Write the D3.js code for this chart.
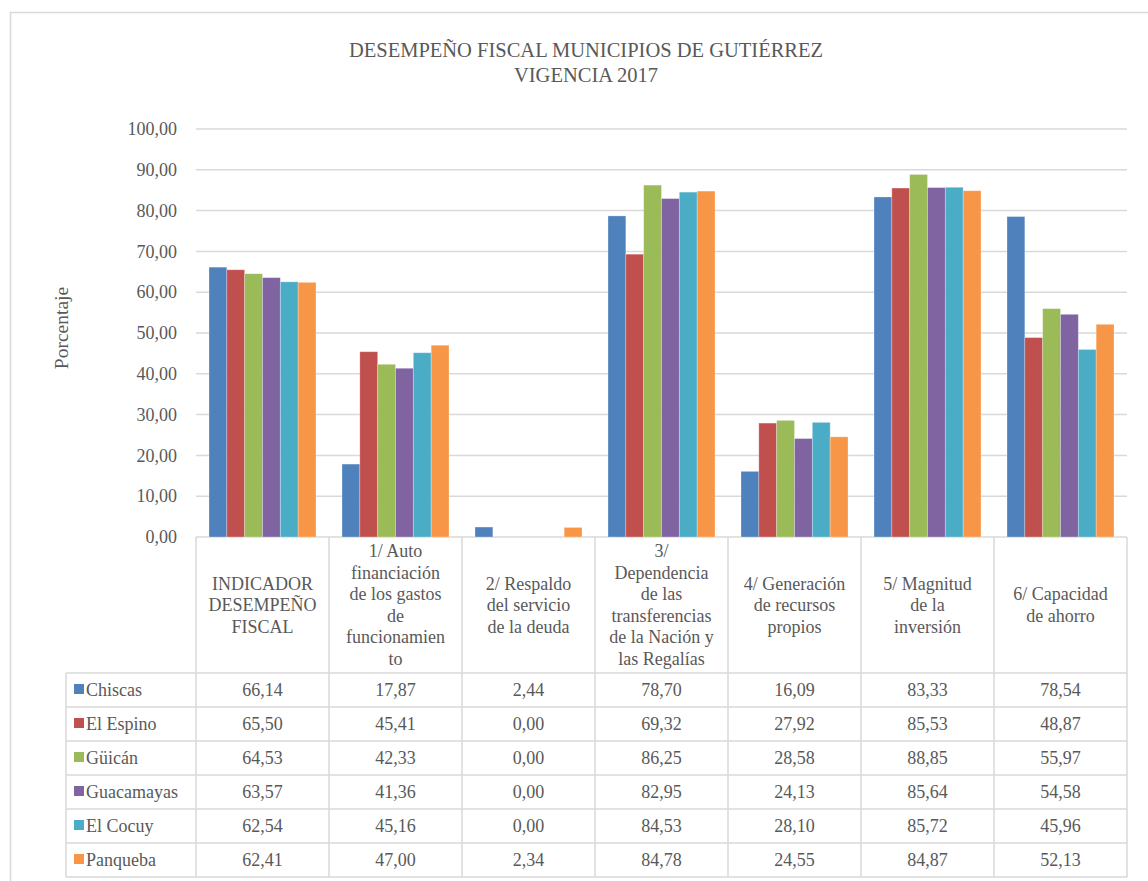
<!DOCTYPE html>
<html>
<head>
<meta charset="utf-8">
<script src="https://cdn.jsdelivr.net/npm/d3@7"></script>
<style>
  body { margin: 0; background: #fff; }
  svg, svg text { font-family: "Liberation Serif", "DejaVu Serif", serif; fill: #595959; }
</style>
</head>
<body>
<script>
const categories = [
    ['INDICADOR', 'DESEMPEÑO', 'FISCAL'],
    ['1/ Auto', 'financiación', 'de los gastos', 'de', 'funcionamien', 'to'],
    ['2/ Respaldo', 'del servicio', 'de la deuda'],
    ['3/', 'Dependencia', 'de las', 'transferencias', 'de la Nación y', 'las Regalías'],
    ['4/ Generación', 'de recursos', 'propios'],
    ['5/ Magnitud', 'de la', 'inversión'],
    ['6/ Capacidad', 'de ahorro']
];
const municipios = ['Chiscas', 'El Espino', 'Güicán', 'Guacamayas', 'El Cocuy', 'Panqueba'];
const chiscas    = [66.14, 17.87, 2.44, 78.70, 16.09, 83.33, 78.54];
const elEspino   = [65.50, 45.41, 0.00, 69.32, 27.92, 85.53, 48.87];
const guican     = [64.53, 42.33, 0.00, 86.25, 28.58, 88.85, 55.97];
const guacamayas = [63.57, 41.36, 0.00, 82.95, 24.13, 85.64, 54.58];
const elCocuy    = [62.54, 45.16, 0.00, 84.53, 28.10, 85.72, 45.96];
const panqueba   = [62.41, 47.00, 2.34, 84.78, 24.55, 84.87, 52.13];
const yTicks = [0, 10, 20, 30, 40, 50, 60, 70, 80, 90, 100];
const colors = ['#4f81bd', '#c0504d', '#9bbb59', '#8064a2', '#4bacc6', '#f79646'];

const series = [chiscas, elEspino, guican, guacamayas, elCocuy, panqueba];

const W = 1148, H = 881;
const plotLeft = 196, plotRight = 1127, plotTop = 129, plotBottom = 537;
const headerBottom = 673, rowH = 34, legendLeft = 66;
const grid = '#d9d9d9';
const fs = '18px';

const fmt = v => v.toFixed(2).replace('.', ',');

const svg = d3.select('body').append('svg')
    .attr('width', W)
    .attr('height', H);

// outer chart border
svg.append('rect')
    .attr('x', 10.5).attr('y', 12.5)
    .attr('width', W + 20).attr('height', H + 20)
    .attr('fill', 'none').attr('stroke', grid).attr('stroke-width', 1.5);

// title
svg.append('text').attr('x', 586).attr('y', 57).attr('text-anchor', 'middle')
    .style('font-size', '20.5px').text('DESEMPEÑO FISCAL MUNICIPIOS DE GUTIÉRREZ');
svg.append('text').attr('x', 586).attr('y', 82).attr('text-anchor', 'middle')
    .style('font-size', '20.5px').text('VIGENCIA 2017');

const y = d3.scaleLinear().domain([0, 100]).range([plotBottom, plotTop]);
const x0 = d3.scaleBand().domain(d3.range(categories.length)).range([plotLeft, plotRight]);
const x1 = d3.scaleBand().domain(d3.range(municipios.length)).range([13, x0.bandwidth() - 13]);

// gridlines + y labels
const yAxis = d3.axisLeft(y).tickValues(yTicks).tickSize(0).tickPadding(19).tickFormat(fmt);
const ga = svg.append('g').attr('transform', 'translate(' + plotLeft + ',0)').call(yAxis);
ga.attr('font-family', null).attr('font-size', null);
ga.select('.domain').remove();
ga.selectAll('text').style('font-size', fs).attr('fill', '#595959');

svg.append('g').selectAll('line')
    .data(yTicks)
    .enter().append('line')
    .attr('x1', plotLeft).attr('x2', plotRight)
    .attr('y1', d => y(d)).attr('y2', d => y(d))
    .attr('stroke', grid).attr('stroke-width', 1.5);

svg.append('text')
    .attr('transform', 'translate(68,' + 328 + ') rotate(-90)')
    .attr('text-anchor', 'middle')
    .style('font-size', '19.5px').text('Porcentaje');

// bars
const groups = svg.append('g').selectAll('g')
    .data(categories.map((c, i) => i))
    .enter().append('g')
    .attr('transform', i => 'translate(' + x0(i) + ',0)');

groups.selectAll('rect')
    .data(i => series.map((s, j) => ({j: j, v: s[i]})))
    .enter().append('rect')
    .attr('x', d => x1(d.j))
    .attr('width', x1.bandwidth())
    .attr('y', d => y(d.v))
    .attr('height', d => y(0) - y(d.v))
    .attr('fill', d => colors[d.j])
    .attr('stroke', 'rgba(255,255,255,0.35)').attr('stroke-width', 0.8);

// data table
const tbl = svg.append('g');
const tableBottom = headerBottom + rowH * municipios.length;

// vertical lines of columns
const colEdges = d3.range(categories.length).map(i => x0(i)).concat([plotRight]);
tbl.selectAll('line.v')
    .data(colEdges)
    .enter().append('line')
    .attr('x1', d => d).attr('x2', d => d)
    .attr('y1', plotBottom).attr('y2', tableBottom)
    .attr('stroke', grid).attr('stroke-width', 1.5);
tbl.append('line')
    .attr('x1', legendLeft).attr('x2', legendLeft)
    .attr('y1', headerBottom).attr('y2', tableBottom)
    .attr('stroke', grid).attr('stroke-width', 1.5);

// horizontal lines of rows
tbl.selectAll('line.h')
    .data(d3.range(municipios.length + 1))
    .enter().append('line')
    .attr('x1', legendLeft).attr('x2', plotRight)
    .attr('y1', r => headerBottom + r * rowH).attr('y2', r => headerBottom + r * rowH)
    .attr('stroke', grid).attr('stroke-width', 1.5);

// header labels
const lineH = 21.5;
const headMid = (plotBottom + headerBottom) / 2 + 6;
categories.forEach((lines, i) => {
    const t = tbl.append('text')
        .attr('text-anchor', 'middle')
        .style('font-size', fs);
    const startY = headMid - (lines.length - 1) * lineH / 2;
    lines.forEach((ln, k) => {
        t.append('tspan')
            .attr('x', x0(i) + x0.bandwidth() / 2)
            .attr('y', startY + k * lineH)
            .text(ln);
    });
});

// rows
municipios.forEach((m, j) => {
    const cy = headerBottom + j * rowH + rowH / 2;
    tbl.append('rect')
        .attr('x', legendLeft + 8).attr('y', cy - 6)
        .attr('width', 10).attr('height', 10)
        .attr('fill', colors[j]);
    tbl.append('text')
        .attr('x', legendLeft + 20).attr('y', cy + 6)
        .style('font-size', fs).text(m);
    series[j].forEach((v, i) => {
        tbl.append('text')
            .attr('x', x0(i) + x0.bandwidth() / 2).attr('y', cy + 6)
            .attr('text-anchor', 'middle')
            .style('font-size', fs).text(fmt(v));
    });
});
</script>
</body>
</html>
